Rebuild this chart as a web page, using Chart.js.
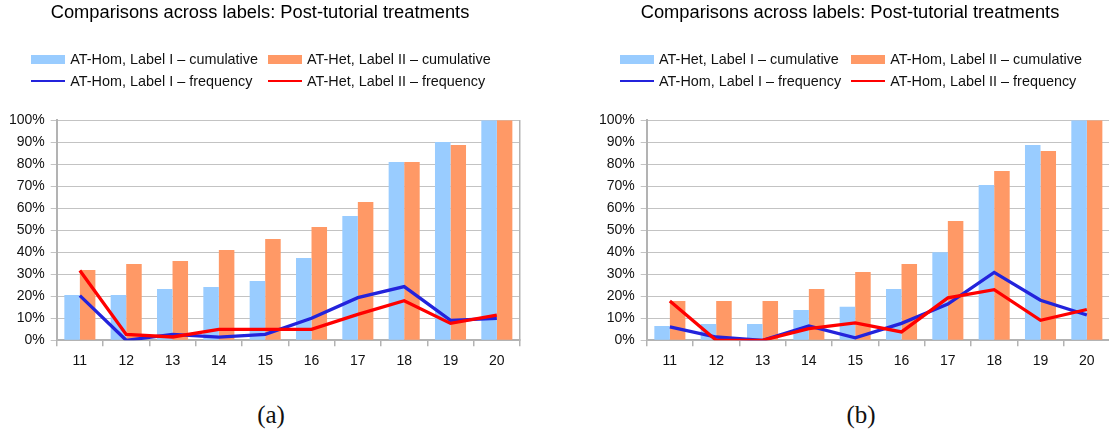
<!DOCTYPE html>
<html>
<head>
<meta charset="utf-8">
<script src="https://cdn.jsdelivr.net/npm/chart.js@4.4.1/dist/chart.umd.min.js"></script>
<style>
  html, body { margin: 0; padding: 0; background: #fff; overflow: hidden; width: 1109px; height: 430px; }
  .wrap { position: absolute; top: 0; width: 522px; height: 430px; }
  .wrap canvas { position: absolute; left: 0; top: 0; }
  .legend { position: absolute; left: 0; top: 48px; width: 522px; display: grid;
            grid-template-columns: auto auto; justify-content: center; column-gap: 10px;
            font-family: "Liberation Sans", Arial, sans-serif; font-size: 14.4px; line-height: 22px; color: #111; }
  .item { display: flex; align-items: center; white-space: nowrap; }
  .sw { display: inline-block; width: 34px; margin-right: 5px; }
  .cap { position: absolute; top: 400px; left: 0; width: 542px; text-align: center;
         font-family: "Liberation Serif", "DejaVu Serif", serif; font-size: 25px; line-height: 30px; color: #111; }
</style>
</head>
<body>
<div class="wrap" id="wa" style="left:0px"><canvas id="ca" width="522" height="380"></canvas><div class="legend" id="la"></div><div class="cap">(a)</div></div>
<div class="wrap" id="wb" style="left:590px"><canvas id="cb" width="522" height="380"></canvas><div class="legend" id="lb"></div><div class="cap">(b)</div></div>
<script>
// ---- data ----
const categories = ['11','12','13','14','15','16','17','18','19','20'];
const yTickValues = [0,10,20,30,40,50,60,70,80,90,100];
const chartTitle = 'Comparisons across labels: Post-tutorial treatments';

// (a)
const aLabels = ['AT-Hom, Label I – cumulative', 'AT-Het, Label II – cumulative', 'AT-Hom, Label I – frequency', 'AT-Het, Label II – frequency'];
const aCumI  = [20.6, 20.6, 23.3, 24.2, 27.0, 37.4, 56.5, 81.1, 90.2, 100];
const aCumII = [32.0, 34.7, 36.1, 41.1, 46.1, 51.5, 62.9, 81.1, 88.8, 100];
const aFreqI  = [20.3, 0.0, 2.7, 1.4, 2.7, 10.0, 19.4, 24.4, 9.1, 10.0];
const aFreqII = [31.7, 2.7, 1.5, 5.0, 5.0, 5.0, 11.8, 18.0, 7.7, 11.4];

// (b)
const bLabels = ['AT-Het, Label I – cumulative', 'AT-Hom, Label II – cumulative', 'AT-Hom, Label I – frequency', 'AT-Hom, Label II – frequency'];
const bCumI  = [6.5, 7.4, 7.4, 13.8, 15.2, 23.3, 40.0, 70.6, 88.8, 100];
const bCumII = [17.9, 17.9, 17.9, 23.3, 31.1, 34.7, 54.2, 77.0, 86.1, 100];
const bFreqI  = [6.1, 1.5, 0.0, 6.5, 1.1, 7.7, 16.5, 30.9, 18.2, 11.5];
const bFreqII = [17.9, 0.0, 0.0, 5.3, 7.9, 3.8, 19.3, 23.0, 9.1, 14.0];

// ---- styles ----
const C_BAR1 = '#99ccff', C_BAR2 = '#ff9966', C_LINE1 = '#2323dc', C_LINE2 = '#ff0000';
const GRID = '#c3c3c3', AXIS = '#b3b3b3', TXT = '#111';
const SANS = '"Liberation Sans", Arial, sans-serif';

function makeChart(canvasId, legendId, labels, cum1, cum2, f1, f2) {
  const datasets = [
    { type: 'bar', label: labels[0], data: cum1, backgroundColor: C_BAR1, borderWidth: 0, order: 3,
      categoryPercentage: 0.67, barPercentage: 1.0 },
    { type: 'bar', label: labels[1], data: cum2, backgroundColor: C_BAR2, borderWidth: 0, order: 3,
      categoryPercentage: 0.67, barPercentage: 1.0 },
    { type: 'line', label: labels[2], data: f1, borderColor: C_LINE1, backgroundColor: C_LINE1, borderWidth: 3.3,
      pointRadius: 0, tension: 0, fill: false, order: 2 },
    { type: 'line', label: labels[3], data: f2, borderColor: C_LINE2, backgroundColor: C_LINE2, borderWidth: 3.3,
      pointRadius: 0, tension: 0, fill: false, order: 1 }
  ];
  const chart = new Chart(document.getElementById(canvasId), {
    data: { labels: categories, datasets },
    options: {
      responsive: false, animation: false, devicePixelRatio: 1,
      layout: { padding: { top: 0, left: 0, right: 2, bottom: 0 } },
      plugins: {
        legend: { display: false }, tooltip: { enabled: false },
        title: { display: true, text: chartTitle, color: '#000',
                 font: { family: SANS, size: 18.3, weight: 'normal' }, padding: { top: 2, bottom: 96.4 } }
      },
      scales: {
        x: {
          grid: { drawOnChartArea: false, drawTicks: true, tickLength: 6, color: AXIS, lineWidth: 1.5, offset: true },
          border: { color: AXIS, width: 2 },
          ticks: { color: TXT, font: { family: SANS, size: 14 }, padding: 6, maxRotation: 0 },
          afterFit: s => { s.height = 39.7; }
        },
        y: {
          min: 0, max: 100,
          afterBuildTicks: s => { s.ticks = yTickValues.map(v => ({ value: v })); },
          grid: { color: GRID, lineWidth: 1, tickLength: 6 },
          border: { color: AXIS, width: 2 },
          ticks: { color: TXT, font: { family: SANS, size: 14 }, padding: 6, callback: v => v + '%' },
          afterFit: s => { s.width = 56.7; }
        },
        y2: {
          position: 'right', min: 0, max: 100,
          grid: { display: false, drawTicks: false }, ticks: { display: false },
          border: { color: AXIS, width: 1.5 },
          afterFit: s => { s.width = 0; }
        }
      }
    }
  });
  // HTML legend built from the datasets
  const leg = document.getElementById(legendId);
  datasets.forEach(ds => {
    const it = document.createElement('div'); it.className = 'item';
    const sw = document.createElement('span'); sw.className = 'sw';
    sw.style.height = ds.type === 'bar' ? '9px' : '2.5px';
    sw.style.background = ds.type === 'bar' ? ds.backgroundColor : ds.borderColor;
    const tx = document.createElement('span'); tx.textContent = ds.label;
    it.appendChild(sw); it.appendChild(tx); leg.appendChild(it);
  });
  return chart;
}

makeChart('ca', 'la', aLabels, aCumI, aCumII, aFreqI, aFreqII);
makeChart('cb', 'lb', bLabels, bCumI, bCumII, bFreqI, bFreqII);
</script>
</body>
</html>
